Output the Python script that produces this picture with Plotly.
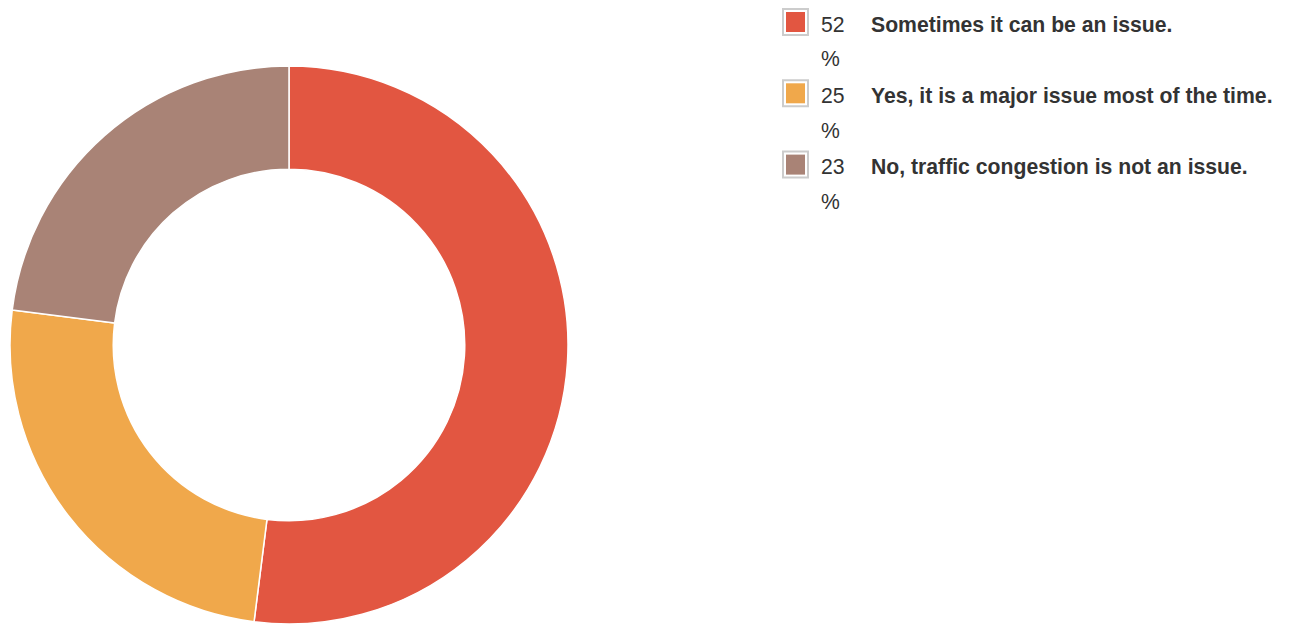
import plotly.graph_objects as go

# Survey answers and their shares (percent)
answers = [
    "Sometimes it can be an issue.",
    "Yes, it is a major issue most of the time.",
    "No, traffic congestion is not an issue.",
]
shares = [52, 25, 23]
colors = ["#E25641", "#F0A84B", "#A98376"]

W, H = 1298, 626
FONT = "Arial, 'Liberation Sans', Helvetica, sans-serif"
TEXT_COLOR = "#333333"
FONT_SIZE = 21.2


def px_x(x):
    return x / W


def px_y(y):
    return 1 - y / H


fig = go.Figure(
    go.Pie(
        labels=answers,
        values=shares,
        sort=False,
        direction="clockwise",
        rotation=0,
        hole=0.63,
        marker=dict(colors=colors, line=dict(color="#ffffff", width=1.5)),
        textinfo="none",
        hoverinfo="label+percent",
        showlegend=False,
        domain=dict(x=[px_x(10), px_x(568)], y=[px_y(624), px_y(66)]),
    )
)

# Hand-drawn legend: swatch, percentage (wrapped) and bold answer text
shapes = []
annotations = []
row_top = 8
row_step = 71.3
for i, (answer, share, color) in enumerate(zip(answers, shares, colors)):
    top = row_top + i * row_step
    shapes.append(dict(
        type="rect", xref="paper", yref="paper",
        x0=px_x(783), x1=px_x(808), y0=px_y(top + 1), y1=px_y(top + 27),
        line=dict(color="#cccccc", width=2), fillcolor="#ffffff", layer="above",
    ))
    shapes.append(dict(
        type="rect", xref="paper", yref="paper",
        x0=px_x(786), x1=px_x(805), y0=px_y(top + 4), y1=px_y(top + 24),
        line=dict(width=0), fillcolor=color, layer="above",
    ))
    mid = top + 16.3
    annotations.append(dict(
        xref="paper", yref="paper", x=px_x(819), y=px_y(mid),
        xanchor="left", yanchor="middle", showarrow=False,
        text=str(share), font=dict(family=FONT, size=FONT_SIZE, color=TEXT_COLOR),
    ))
    annotations.append(dict(
        xref="paper", yref="paper", x=px_x(819), y=px_y(mid + 34.5),
        xanchor="left", yanchor="middle", showarrow=False,
        text="%", font=dict(family=FONT, size=FONT_SIZE, color=TEXT_COLOR),
    ))
    annotations.append(dict(
        xref="paper", yref="paper", x=px_x(869), y=px_y(mid),
        xanchor="left", yanchor="middle", showarrow=False,
        text=f"<b>{answer}</b>", font=dict(family=FONT, size=FONT_SIZE, color=TEXT_COLOR),
    ))

fig.update_layout(
    width=W,
    height=H,
    margin=dict(l=0, r=0, t=0, b=0),
    paper_bgcolor="#ffffff",
    plot_bgcolor="#ffffff",
    shapes=shapes,
    annotations=annotations,
)

fig.write_html("out.html")
